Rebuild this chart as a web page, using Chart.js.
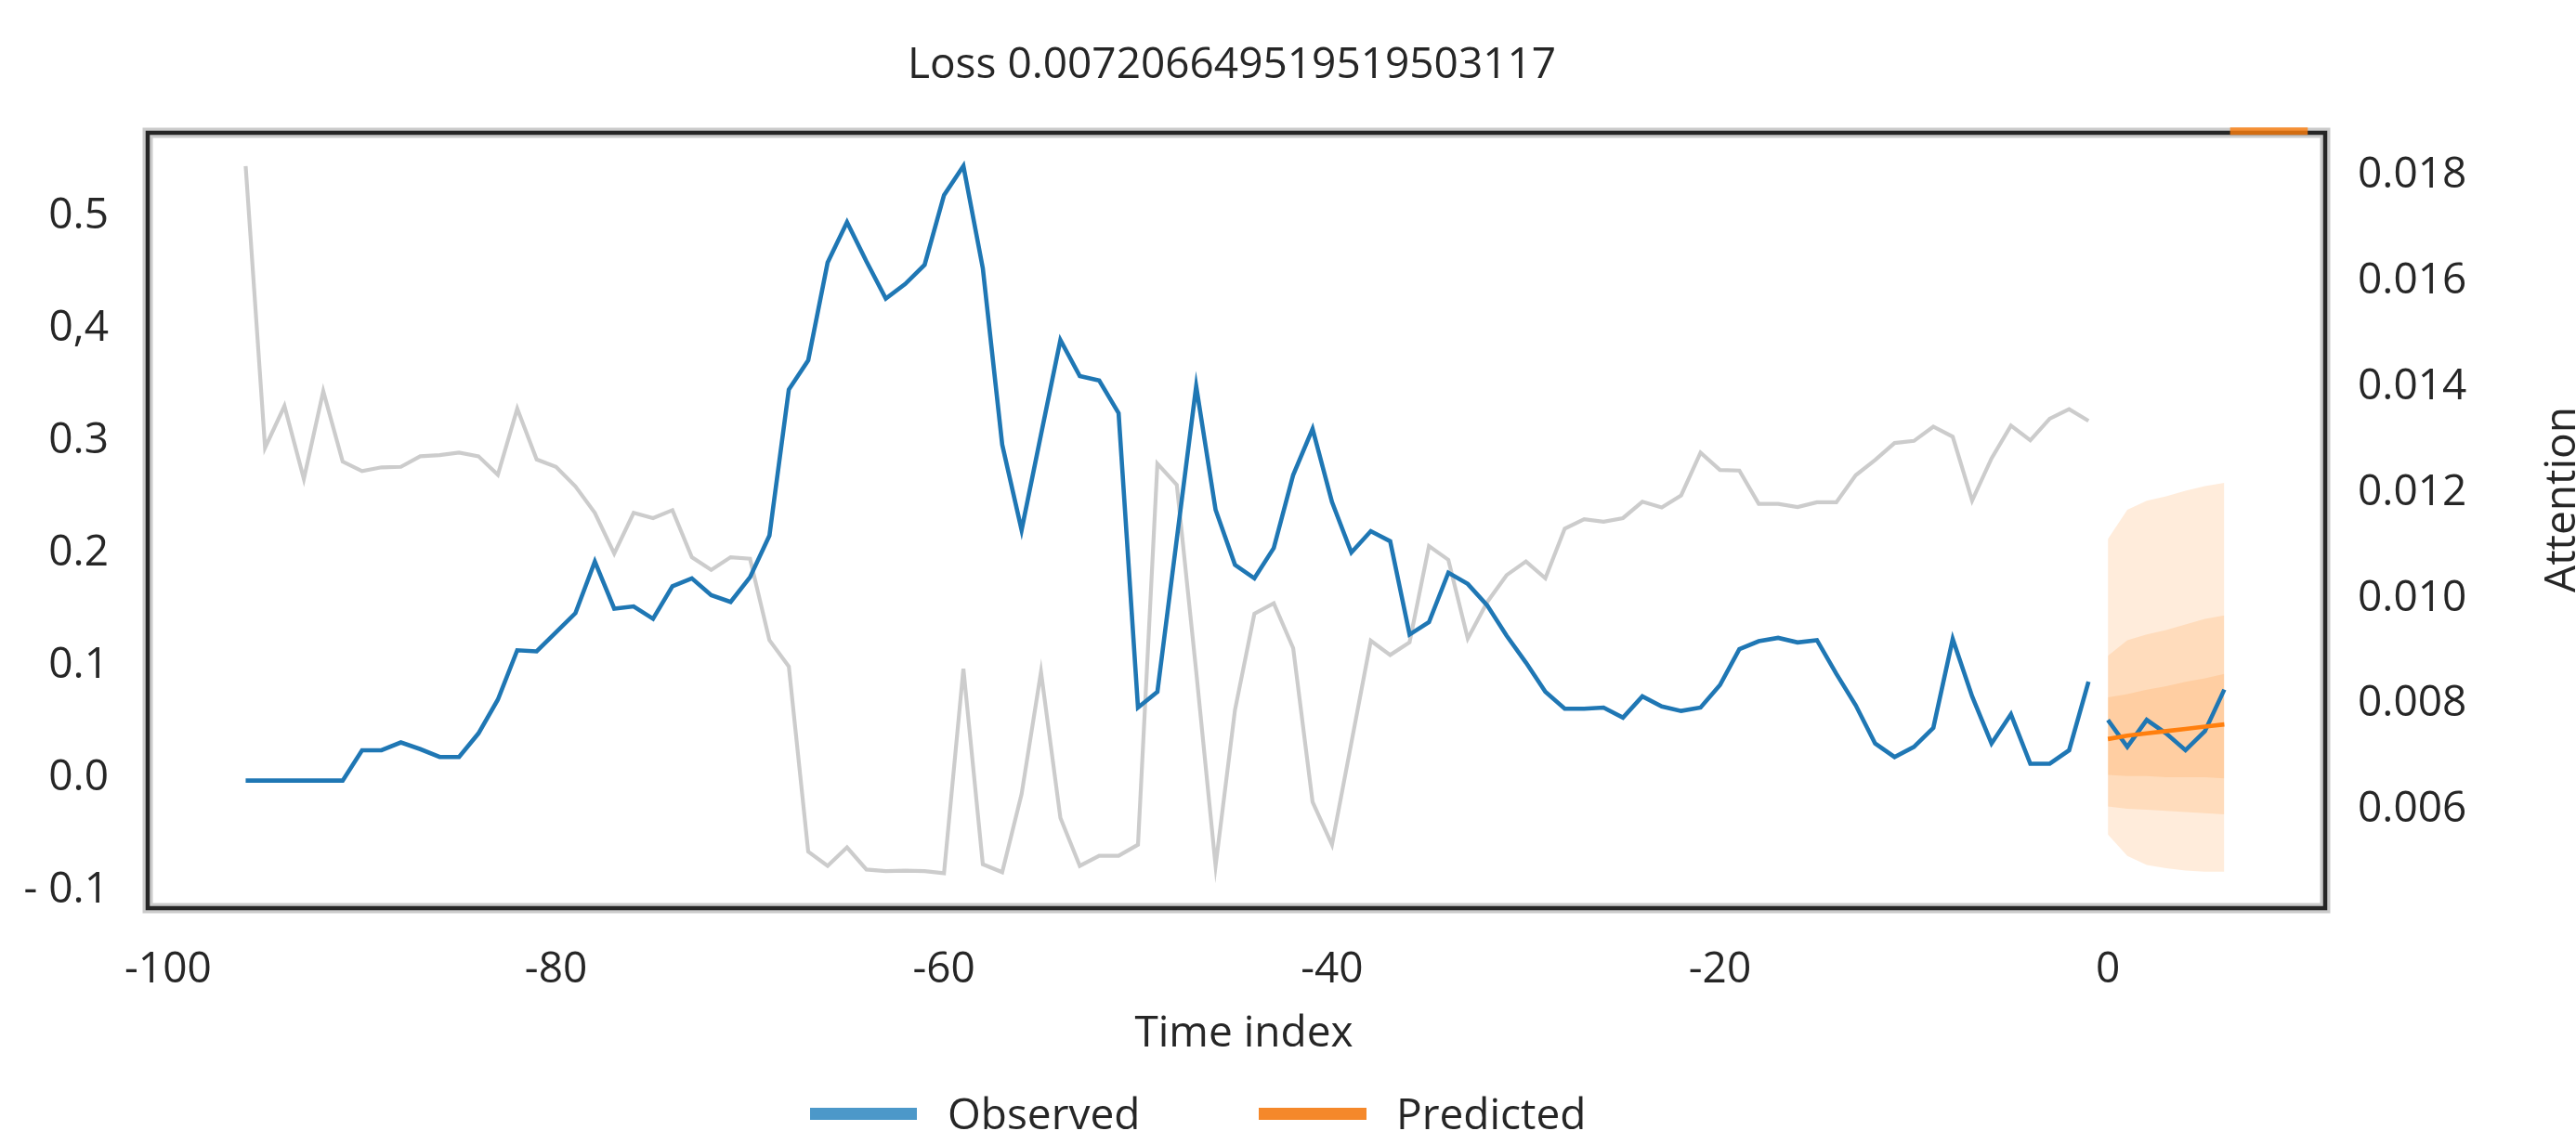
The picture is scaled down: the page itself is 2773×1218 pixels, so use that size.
<!DOCTYPE html>
<html>
<head>
<meta charset="utf-8">
<script src="https://cdn.jsdelivr.net/npm/chart.js@4.4.0/dist/chart.umd.min.js"></script>
<style>
  html, body { margin: 0; padding: 0; background: #fff; }
  canvas { display: block; }
</style>
</head>
<body>
<canvas id="chart" width="2773" height="1218"></canvas>
<script>
// time index of the first observed point (observed runs up to -1)
const observedStart = -96;
const observed = [
  -0.002, -0.002, -0.002, -0.002, -0.002, -0.002, 0.025, 0.025, 0.032, 0.026,
  0.019, 0.019, 0.040, 0.070, 0.114, 0.113, 0.130, 0.147, 0.193, 0.151,
  0.153, 0.142, 0.171, 0.178, 0.163, 0.157, 0.179, 0.216, 0.346, 0.372,
  0.459, 0.495, 0.460, 0.427, 0.440, 0.457, 0.519, 0.545, 0.454, 0.297,
  0.221, 0.306, 0.390, 0.358, 0.354, 0.325, 0.063, 0.077, 0.213, 0.349,
  0.239, 0.190, 0.178, 0.205, 0.270, 0.311, 0.246, 0.201, 0.220, 0.211,
  0.128, 0.139, 0.183, 0.173, 0.154, 0.127, 0.103, 0.077, 0.062, 0.062,
  0.063, 0.054, 0.073, 0.064, 0.060, 0.063, 0.083, 0.115, 0.122, 0.125,
  0.121, 0.123, 0.093, 0.065, 0.031, 0.019, 0.028, 0.045, 0.124, 0.073,
  0.031, 0.057, 0.013, 0.013, 0.025, 0.086
];
const attention = [
  0.01818, 0.01285, 0.01364, 0.01226, 0.01392, 0.01259, 0.01241, 0.01248, 0.01249, 0.01269,
  0.01271, 0.01276, 0.01269, 0.01234, 0.01359, 0.01263, 0.01249, 0.01212, 0.01162, 0.01085,
  0.01162, 0.01152, 0.01167, 0.01078, 0.01054, 0.01078, 0.01075, 0.00921, 0.00871, 0.00521,
  0.00494, 0.00529, 0.00487, 0.00484, 0.00485, 0.00484, 0.00480, 0.00867, 0.00497, 0.00482,
  0.00630, 0.00861, 0.00585, 0.00494, 0.00513, 0.00513, 0.00534, 0.01255, 0.01215, 0.00862,
  0.00494, 0.00789, 0.00971, 0.00991, 0.00906, 0.00615, 0.00534, 0.00727, 0.00920, 0.00893,
  0.00917, 0.01099, 0.01073, 0.00924, 0.00993, 0.01044, 0.01070, 0.01038, 0.01132, 0.01150,
  0.01145, 0.01152, 0.01183, 0.01172, 0.01195, 0.01276, 0.01243, 0.01242, 0.01179, 0.01179,
  0.01173, 0.01182, 0.01182, 0.01233, 0.01262, 0.01294, 0.01298, 0.01325, 0.01306, 0.01185,
  0.01265, 0.01327, 0.01299, 0.01340, 0.01358, 0.01336
];

// prediction horizon starts at 0
const futureStart = 0;
const futureObserved = [0.052, 0.028, 0.052, 0.040, 0.025, 0.042, 0.079];
const predicted = [0.035, 0.038, 0.040, 0.042, 0.044, 0.046, 0.048];
const outerUpper = [0.213, 0.239, 0.247, 0.251, 0.256, 0.260, 0.263];
const outerLower = [-0.050, -0.069, -0.077, -0.080, -0.082, -0.083, -0.083];
const middleUpper = [0.109, 0.123, 0.128, 0.132, 0.137, 0.142, 0.145];
const middleLower = [-0.025, -0.027, -0.028, -0.029, -0.030, -0.031, -0.032];
const innerUpper = [0.072, 0.075, 0.079, 0.082, 0.086, 0.089, 0.093];
const innerLower = [0.003, 0.002, 0.002, 0.001, 0.001, 0.001, 0.000];

// little orange mark sitting on the top spine
const topMarkX = [6.3, 10.3];
const topMarkY = 0.576;

const xTicks = [-100, -80, -60, -40, -20, 0];
const xTickLabels = ["-100", "-80", "-60", "-40", "-20", "0"];
const yTicks = [0.5, 0.4, 0.3, 0.2, 0.1, 0.0, -0.1];
const yTickLabels = ["0.5", "0,4", "0.3", "0.2", "0.1", "0.0", "- 0.1"];
const y2Ticks = [0.018, 0.016, 0.014, 0.012, 0.010, 0.008, 0.006];
const y2TickLabels = ["0.018", "0.016", "0.014", "0.012", "0.010", "0.008", "0.006"];

const titleText = "Loss 0.007206649519519503117";
const BLUE = "#1f77b4";
const ORANGE = "#ff7f0e";
const BAND = "rgba(255, 127, 14, 0.15)";
const TEXT = "#262626";
const FONT = "'Open Sans', 'Noto Sans', sans-serif";

const pts = (start, values) => values.map((v, i) => ({ x: start + i, y: v }));

const lineDs = (label, data, color, extra) => Object.assign({
  label, data, borderColor: color, borderWidth: 4.6, pointRadius: 0,
  fill: false, tension: 0, yAxisID: "y"
}, extra || {});

const bandDs = (data, fill) => ({
  data, borderWidth: 0, borderColor: "transparent", pointRadius: 0,
  backgroundColor: BAND, fill, tension: 0, yAxisID: "y"
});

// frame + texts that matplotlib puts around the axes
const decorations = {
  id: "decorations",
  beforeDatasetsDraw(chart) {
    const { ctx, chartArea: a } = chart;
    ctx.save();
    ctx.strokeStyle = "#cbcbcb";
    ctx.lineWidth = 11;
    ctx.strokeRect(a.left, a.top, a.right - a.left, a.bottom - a.top);
    ctx.strokeStyle = "#262626";
    ctx.lineWidth = 4.5;
    ctx.strokeRect(a.left, a.top, a.right - a.left, a.bottom - a.top);
    ctx.restore();
  },
  afterDraw(chart) {
    const { ctx } = chart;
    ctx.save();
    ctx.fillStyle = TEXT;
    ctx.font = "46px " + FONT;
    ctx.textBaseline = "alphabetic";

    ctx.textAlign = "center";
    ctx.fillText(titleText, 1326, 84);
    ctx.fillText("Time index", 1339, 1127);

    ctx.save();
    ctx.translate(2772, 538);
    ctx.rotate(-Math.PI / 2);
    ctx.fillText("Attention", 0, 0);
    ctx.restore();

    // legend
    ctx.textAlign = "left";
    ctx.fillStyle = "#4c98c9";
    ctx.fillRect(872, 1193, 115, 13);
    ctx.fillStyle = "#f5882a";
    ctx.fillRect(1355, 1193, 116, 13);
    ctx.fillStyle = TEXT;
    ctx.fillText("Observed", 1020, 1216);
    ctx.fillText("Predicted", 1503, 1216);
    ctx.restore();
  }
};

const tickFont = { family: FONT, size: 46 };

new Chart(document.getElementById("chart"), {
  type: "line",
  data: {
    datasets: [
      lineDs("mark", topMarkX.map(x => ({ x, y: topMarkY })), "rgba(255, 127, 14, 0.8)",
        { borderWidth: 8, clip: false, borderCapStyle: "butt" }),
      lineDs("Predicted", pts(futureStart, predicted), ORANGE),
      lineDs("Observed future", pts(futureStart, futureObserved), BLUE),
      lineDs("Observed", pts(observedStart, observed), BLUE),
      bandDs(pts(futureStart, innerUpper), "+1"),
      bandDs(pts(futureStart, innerLower), false),
      bandDs(pts(futureStart, middleUpper), "+1"),
      bandDs(pts(futureStart, middleLower), false),
      bandDs(pts(futureStart, outerUpper), "+1"),
      bandDs(pts(futureStart, outerLower), false),
      lineDs("Attention", pts(observedStart, attention), "rgba(0, 0, 0, 0.2)", { yAxisID: "y2", borderWidth: 4.2 })
    ]
  },
  options: {
    responsive: false,
    devicePixelRatio: 1,
    animation: false,
    events: [],
    layout: { padding: { top: 143, left: 0, right: 0, bottom: 0 } },
    plugins: {
      legend: { display: false },
      title: { display: false },
      tooltip: { enabled: false }
    },
    scales: {
      x: {
        type: "linear",
        min: -101.05,
        max: 11.2,
        grid: { display: false, drawTicks: false, tickLength: 0 },
        border: { display: false },
        afterBuildTicks: (s) => { s.ticks = xTicks.map(v => ({ value: v })); },
        afterFit: (s) => { s.height = 240; },
        ticks: {
          font: tickFont, color: TEXT, padding: 39, maxRotation: 0, autoSkip: false,
          callback: (v) => xTickLabels[xTicks.indexOf(v)]
        }
      },
      y: {
        position: "left",
        min: -0.1155,
        max: 0.5745,
        grid: { display: false, drawTicks: false, tickLength: 0 },
        border: { display: false },
        afterBuildTicks: (s) => { s.ticks = yTicks.map(v => ({ value: v })); },
        afterFit: (s) => { s.width = 159; },
        ticks: {
          font: tickFont, color: TEXT, padding: 42,
          callback: (v) => yTickLabels[yTicks.indexOf(v)]
        }
      },
      y2: {
        position: "right",
        min: 0.00414,
        max: 0.01881,
        grid: { display: false, drawTicks: false, tickLength: 0 },
        border: { display: false },
        afterBuildTicks: (s) => { s.ticks = y2Ticks.map(v => ({ value: v })); },
        afterFit: (s) => { s.width = 270; },
        ticks: {
          font: tickFont, color: TEXT, padding: 35,
          callback: (v) => y2TickLabels[y2Ticks.indexOf(v)]
        }
      }
    }
  },
  plugins: [decorations]
});
</script>
</body>
</html>
